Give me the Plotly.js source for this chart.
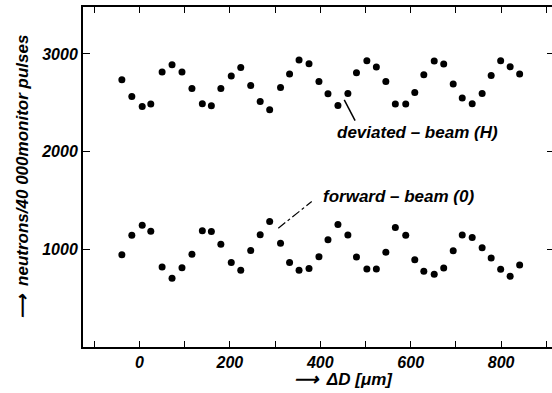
<!DOCTYPE html>
<html>
<head>
<meta charset="utf-8">
<script src="https://cdn.plot.ly/plotly-3.0.1.min.js"></script>
<style>
html,body{margin:0;padding:0;overflow:hidden;background:#fff;width:552px;height:393px;}
#wrap{width:552px;height:393px;overflow:hidden;position:relative;}
#chart{width:560px;height:393px;position:absolute;left:0;top:0;}
</style>
</head>
<body>
<div id="wrap"><div id="chart"></div></div>
<script>
// ΔD positions (µm)
const deltaD = [-39, -17, 6, 25, 50, 72, 94, 116, 139, 159, 180, 203, 224, 246, 267, 288, 312, 332, 353, 375, 397, 417, 439, 461, 480, 503, 524, 545, 566, 589, 609, 629, 652, 673, 694, 714, 736, 758, 778, 799, 820, 841];
// deviated-beam (H) counts
const deviatedBeam = [2735, 2564, 2462, 2486, 2814, 2889, 2814, 2646, 2489, 2469, 2646, 2773, 2861, 2677, 2513, 2428, 2656, 2794, 2937, 2899, 2718, 2592, 2472, 2595, 2807, 2930, 2865, 2718, 2486, 2486, 2605, 2787, 2927, 2896, 2691, 2548, 2489, 2595, 2779, 2930, 2869, 2794];
// forward-beam (0) counts
const forwardBeam = [943, 1144, 1247, 1185, 820, 704, 812, 950, 1191, 1181, 1052, 864, 786, 987, 1150, 1284, 1062, 864, 786, 804, 925, 1099, 1253, 1147, 922, 799, 799, 970, 1222, 1144, 894, 776, 745, 809, 984, 1147, 1120, 1017, 912, 796, 724, 840];
const xTickVals = [0, 200, 400, 600, 800];
const xTickText = ['0', '200', '400', '600', '800'];
const yTickVals = [1000, 2000, 3000];
const yTickText = ['1000', '2000', '3000'];

const fontFam = '"Liberation Sans", Arial, sans-serif';
const mk = {color: '#000', size: 7};
const W = 560, ML = 83, MR = 6;
const plotW = W - ML - MR;

const traces = [
  {x: deltaD, y: deviatedBeam, mode: 'markers', type: 'scatter', marker: mk, name: 'deviated-beam (H)'},
  {x: deltaD, y: forwardBeam, mode: 'markers', type: 'scatter', marker: mk, name: 'forward-beam (0)'}
];

const layout = {
  width: W, height: 393,
  margin: {l: ML, r: MR, t: 7, b: 46},
  paper_bgcolor: '#fff', plot_bgcolor: '#fff',
  showlegend: false,
  font: {family: fontFam, color: '#000', size: 16, style: 'italic'},
  xaxis: {
    range: [-125, 917],
    showgrid: false, zeroline: false,
    showline: true, linecolor: '#000', linewidth: 2, mirror: 'ticks',
    ticks: 'inside', ticklen: 6, tickwidth: 1, tickcolor: '#000',
    tickvals: xTickVals, ticktext: xTickText,
    minor: {dtick: 100, tick0: 0, ticks: 'inside', ticklen: 6, tickwidth: 1, tickcolor: '#000'},
    tickfont: {family: fontFam, size: 16, style: 'italic', weight: 'bold', color: '#000'}
  },
  yaxis: {
    range: [0, 3480],
    showgrid: false, zeroline: false,
    showline: true, linecolor: '#000', linewidth: 2, mirror: 'ticks',
    ticks: 'inside', ticklen: 7, tickwidth: 1, tickcolor: '#000',
    tickvals: yTickVals, ticktext: yTickText,
    tickfont: {family: fontFam, size: 16, style: 'italic', weight: 'bold', color: '#000'},
    title: {text: '\u27F6  neutrons/40 000monitor pulses', font: {family: fontFam, size: 17, style: 'italic', weight: 'bold', color: '#000'}, standoff: 8}
  },
  annotations: [
    {xref: 'paper', yref: 'paper', x: (343 - ML) / plotW, y: -0.095, xanchor: 'center', yanchor: 'middle', showarrow: false,
     text: '\u27F6  \u0394D [\u03BCm]', font: {family: fontFam, size: 17, style: 'italic', weight: 'bold', color: '#000'}},
    {xref: 'x', yref: 'y', x: 614, y: 2200, xanchor: 'center', yanchor: 'middle', showarrow: false,
     text: 'deviated \u2013 beam (H)', font: {family: fontFam, size: 17, style: 'italic', weight: 'bold', color: '#000'}},
    {xref: 'x', yref: 'y', x: 574, y: 1540, xanchor: 'center', yanchor: 'middle', showarrow: false,
     text: 'forward \u2013 beam (0)', font: {family: fontFam, size: 17, style: 'italic', weight: 'bold', color: '#000'}}
  ],
  shapes: [
    {type: 'line', xref: 'x', yref: 'y', x0: 453, y0: 2530, x1: 477, y1: 2318, line: {color: '#000', width: 1.5}},
    {type: 'line', xref: 'x', yref: 'y', x0: 307, y0: 1216, x1: 381, y1: 1489, line: {color: '#000', width: 1.2, dash: 'dashdot'}}
  ]
};

Plotly.newPlot('chart', traces, layout, {displayModeBar: false, staticPlot: true});
</script>
</body>
</html>
